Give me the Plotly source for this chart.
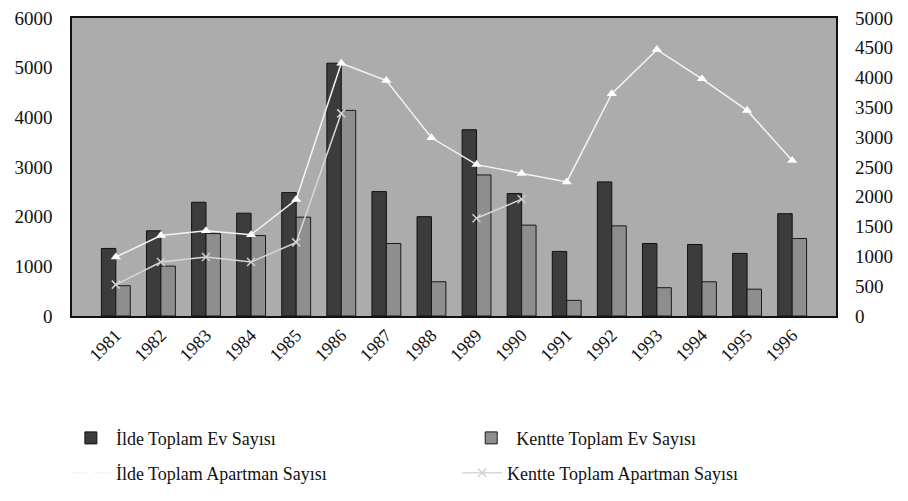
"""Konut istatistikleri: ev ve apartman sayıları, 1981-1996."""

import plotly.graph_objects as go

years = [str(y) for y in range(1981, 1997)]

# sol eksen (çubuklar)
ilde_ev = [1360, 1715, 2290, 2070, 2485, 5090, 2505, 2000,
           3750, 2465, 1300, 2700, 1460, 1440, 1260, 2060]
kentte_ev = [610, 1005, 1660, 1620, 1990, 4140, 1460, 690,
             2840, 1830, 315, 1815, 570, 690, 540, 1560]

# sağ eksen (çizgiler)
ilde_apartman = [990, 1350, 1430, 1365, 1955, 4240, 3950, 2990,
                 2540, 2390, 2250, 3730, 4470, 3980, 3450, 2610]
kentte_apartman = [526, 905, 990, 905, 1235, 3400, None, None,
                   1640, 1960, None, None, None, None, None, None]

SERIF = "Liberation Serif, Times New Roman, serif"
LINE_CLR = "#f4f4f4"

fig = go.Figure()

fig.add_trace(go.Bar(
    x=years, y=ilde_ev, name="İlde Toplam Ev Sayısı",
    marker=dict(color="#3c3c3c", line=dict(color="#111111", width=1)),
    legend="legend",
))
fig.add_trace(go.Bar(
    x=years, y=kentte_ev, name="Kentte Toplam Ev Sayısı",
    marker=dict(color="#8e8e8e", line=dict(color="#1a1a1a", width=1)),
    legend="legend2",
))
fig.add_trace(go.Scatter(
    x=years, y=ilde_apartman, name="İlde Toplam Apartman Sayısı",
    yaxis="y2", mode="lines+markers",
    line=dict(color=LINE_CLR, width=1.5),
    marker=dict(symbol="triangle-up", size=9, color="#ffffff"),
    legend="legend3",
))
fig.add_trace(go.Scatter(
    x=years, y=kentte_apartman, name="Kentte Toplam Apartman Sayısı",
    yaxis="y2", mode="lines+markers",
    line=dict(color="#d8d8d8", width=1.5),
    marker=dict(symbol="x-thin", size=8, line=dict(color="#d0d0d0", width=1.5)),
    legend="legend4",
))


def legend_at(x, y):
    return dict(
        x=x, y=y,
        xanchor="left", yanchor="middle",
        font=dict(family=SERIF, size=18, color="#111111"),
        bgcolor="rgba(0,0,0,0)",
        itemwidth=40,
    )


fig.update_layout(
    width=908,
    height=501,
    # the page body adds an 8px offset, so margins are shifted to compensate
    margin=dict(l=64, r=80, t=10, b=193, autoexpand=False),
    paper_bgcolor="white",
    plot_bgcolor="#acacac",
    barmode="group",
    bargap=0.36,
    bargroupgap=0.0,
    font=dict(family=SERIF, size=18, color="#111111"),
    xaxis=dict(
        tickangle=-45,
        tickfont=dict(family=SERIF, size=18),
        showline=True, linecolor="#111111", linewidth=1.5, mirror=True,
        ticks="",
    ),
    yaxis=dict(
        range=[0, 6000], dtick=1000,
        showgrid=False, zeroline=False,
        showline=True, linecolor="#111111", linewidth=1.5, mirror=True,
        tickfont=dict(family=SERIF, size=19),
        ticks="",
        ticklabelstandoff=14,
        ticklabeloverflow="allow",
    ),
    yaxis2=dict(
        overlaying="y", side="right",
        range=[0, 5000], dtick=500,
        showgrid=False, zeroline=False,
        tickfont=dict(family=SERIF, size=19),
        ticks="",
        ticklabelstandoff=18,
        ticklabeloverflow="allow",
    ),
    showlegend=True,
    legend=legend_at(-0.008, -0.41),
    legend2=legend_at(0.516, -0.41),
    legend3=legend_at(-0.008, -0.527),
    legend4=legend_at(0.504, -0.527),
)

fig.write_html("out.html")
